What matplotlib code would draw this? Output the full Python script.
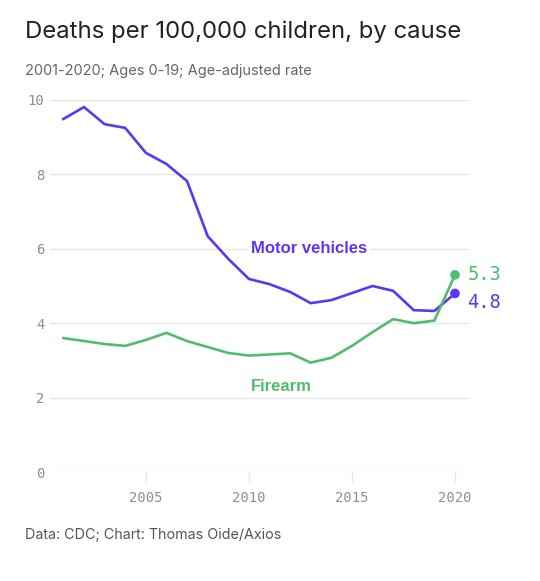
import matplotlib
matplotlib.use("Agg")
import matplotlib.pyplot as plt

years = list(range(2001, 2021))
motor_vehicles = [9.49, 9.81, 9.35, 9.25, 8.58, 8.28, 7.82, 6.34, 5.73, 5.19,
                  5.05, 4.84, 4.54, 4.62, 4.81, 5.00, 4.87, 4.35, 4.33, 4.8]
firearm = [3.60, 3.52, 3.44, 3.39, 3.55, 3.74, 3.52, 3.36, 3.20, 3.13,
           3.16, 3.19, 2.94, 3.07, 3.39, 3.76, 4.11, 4.00, 4.07, 5.3]
y_ticks = [0, 2, 4, 6, 8, 10]
x_ticks = [2005, 2010, 2015, 2020]

PURPLE = "#5a37f2"
GREEN = "#4fbd6c"
GRID = "#e6e6e6"
TICKC = "#8f8f8f"

fig = plt.figure(figsize=(5.40, 5.81), dpi=100)
W, H = 540, 581
ax = fig.add_axes([50 / W, 1 - 472 / H, (469 - 50) / W, (472 - 100) / H])

ax.plot(years, motor_vehicles, color=PURPLE, lw=1.9, solid_joinstyle="miter", zorder=3)
ax.plot(years, firearm, color=GREEN, lw=1.9, solid_joinstyle="miter", zorder=3)
ax.scatter([years[-1]], [firearm[-1]], s=48, color=GREEN, zorder=4, edgecolors="none")
ax.scatter([years[-1]], [motor_vehicles[-1]], s=48, color=PURPLE, zorder=4, edgecolors="none")

ax.set_xlim(2000.35, 2020.68)
ax.set_ylim(0, 10)
ax.set_yticks(y_ticks)
ax.set_xticks(x_ticks)
for s in ax.spines.values():
    s.set_visible(False)
ax.grid(axis="y", color=GRID, lw=1.0, zorder=0)
ax.tick_params(axis="y", length=0, pad=4, labelsize=10, labelcolor=TICKC)
ax.tick_params(axis="x", length=7, width=1.0, color=GRID, pad=7, labelsize=10, labelcolor=TICKC)
for lab in ax.get_yticklabels() + ax.get_xticklabels():
    lab.set_family("DejaVu Sans Mono")

ax.text(2010.1, 6.0, "Motor vehicles", color=PURPLE, fontsize=12, fontweight="bold",
        family="Liberation Sans", va="center", ha="left", zorder=2,
        bbox=dict(facecolor="white", edgecolor="none", pad=2))
ax.text(2010.1, 2.3, "Firearm", color=GREEN, fontsize=12, fontweight="bold",
        family="Liberation Sans", va="center", ha="left", zorder=2)

ax.annotate(f"{firearm[-1]:.1f}", (years[-1], firearm[-1]),
            xytext=(9, 0), textcoords="offset points", color=GREEN, fontsize=13.5,
            family="DejaVu Sans Mono", va="center", ha="left")
ax.annotate(f"{motor_vehicles[-1]:.1f}", (years[-1], motor_vehicles[-1]),
            xytext=(9, -6.5), textcoords="offset points", color=PURPLE, fontsize=13.5,
            family="DejaVu Sans Mono", va="center", ha="left")

fig.text(25 / W, 1 - 32 / H, "Deaths per 100,000 children, by cause", fontsize=17.2,
         color="#222222", family="Inter", va="center", ha="left")
fig.text(25 / W, 1 - 71 / H, "2001-2020; Ages 0-19; Age-adjusted rate", fontsize=10.5,
         color="#666666", family="Inter", va="center", ha="left")
fig.text(25 / W, 1 - 535 / H, "Data: CDC; Chart: Thomas Oide/Axios", fontsize=10.3,
         color="#555555", family="Inter", va="center", ha="left")

fig.savefig("out.png", dpi=100, facecolor="white")
